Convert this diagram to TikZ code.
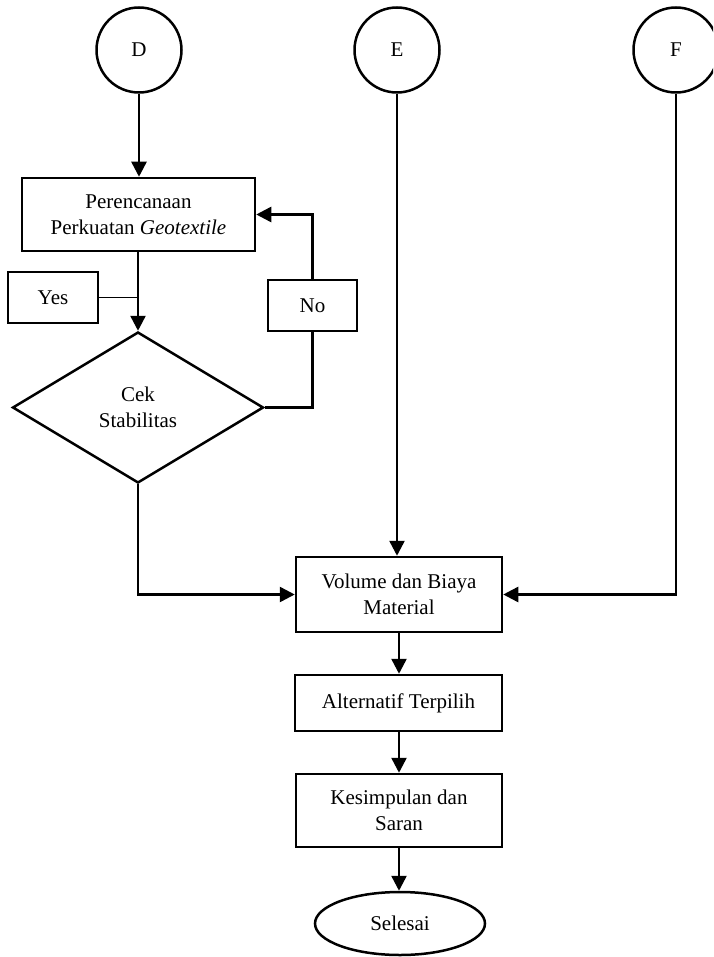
\documentclass[tikz,border=0pt]{standalone}
\usepackage{fontspec}
\setmainfont{Liberation Serif}
\usetikzlibrary{shapes.geometric,arrows.meta}
\begin{document}
\begin{tikzpicture}[x=1pt,y=-1pt,
  every node/.style={font=\fontsize{21}{26}\selectfont, align=center, inner sep=0pt},
  conn/.style={draw, circle, line width=2.5pt, minimum size=85pt},
  box/.style={draw, rectangle, line width=2.5pt},
  lbl/.style={draw, rectangle, line width=2.3pt},
  arr/.style={line width=2.5pt, -{Triangle[length=15pt,width=15pt]}},
  ln/.style={line width=2.5pt},
  thin line/.style={line width=1.2pt}]
\clip (0,0) rectangle (713,957);
\fill[white] (0,0) rectangle (713,957);

\node[conn] (D) at (139,50) {D};
\node[conn] (E) at (397,50) {E};
\node[conn] (F) at (676,50) {F};

\node[box, minimum width=233pt, minimum height=73pt] (per) at (138.5,214.5)
  {Perencanaan\\Perkuatan \textit{Geotextile}};
\node[lbl, minimum width=90pt, minimum height=51pt] (yes) at (53,297.5) {Yes};
\node[lbl, minimum width=89pt, minimum height=51pt] (no) at (312.5,305.5) {No};
\node[draw, diamond, line width=2.5pt, aspect=1.66, minimum width=251pt, minimum height=151pt] (dia) at (138,407.5)
  {Cek\\Stabilitas};

\node[box, minimum width=206pt, minimum height=75pt] (vol) at (399,594.5) {Volume dan Biaya\\Material};
\node[box, minimum width=207pt, minimum height=56pt] (alt) at (398.5,703) {Alternatif Terpilih};
\node[box, minimum width=206pt, minimum height=73pt] (kes) at (399,810.5) {Kesimpulan dan\\Saran};
\node[draw, ellipse, line width=2.5pt, minimum width=170pt, minimum height=63pt] (sel) at (400,923.5) {Selesai};

\draw[arr] (D.south) -- (D.south |- per.north);
\draw[arr] (dia.north |- per.south) -- (dia.north);
\draw[thin line] (yes.east) -- (yes.east -| dia.north);
\draw[ln] (dia.east) -| (no.south);
\draw[arr] (no.north) |- (per.east);
\draw[arr] (dia.south) |- (vol.west);
\draw[arr] (E.south) -- (E.south |- vol.north);
\draw[arr] (F.south) |- (vol.east);
\draw[arr] (vol.south) -- (vol.south |- alt.north);
\draw[arr] (vol.south |- alt.south) -- (vol.south |- kes.north);
\draw[arr] (kes.south) -- (kes.south |- sel.north);
\end{tikzpicture}
\end{document}
